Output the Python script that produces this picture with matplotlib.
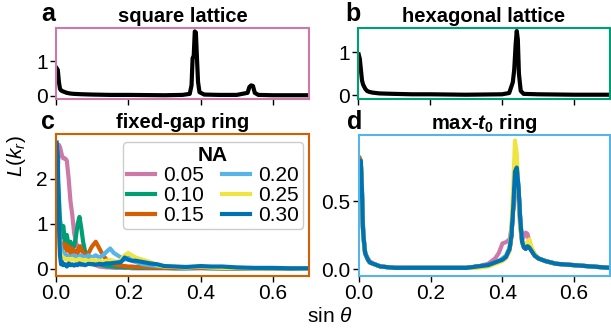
import matplotlib
matplotlib.use("Agg")
import matplotlib.pyplot as plt

plt.rcParams['font.family'] = ['Liberation Sans', 'DejaVu Sans']
plt.rcParams['font.size'] = 15
plt.rcParams['mathtext.fontset'] = 'custom'
plt.rcParams['mathtext.rm'] = 'Liberation Sans'
plt.rcParams['mathtext.it'] = 'Liberation Sans:italic'
plt.rcParams['mathtext.bf'] = 'Liberation Sans:bold'
plt.rcParams['mathtext.bfit'] = 'Liberation Sans:bold:italic'

# colorblind palette, one colour per NA
na_labels = ['0.05', '0.10', '0.15', '0.20', '0.25', '0.30']
na_colors = ['#CC79A7', '#009E73', '#D55E00', '#56B4E9', '#F0E442', '#0072B2']

# square lattice
x_sq = [0.002, 0.005, 0.008, 0.011, 0.014, 0.02, 0.025, 0.03, 0.04, 0.05, 0.07, 0.1, 0.15, 0.2,
        0.3, 0.35, 0.37, 0.375, 0.378, 0.381, 0.384, 0.387, 0.39, 0.393, 0.397, 0.41, 0.45, 0.5,
        0.53, 0.535, 0.54, 0.545, 0.55, 0.56, 0.6, 0.7]
y_sq = [0.80, 0.75, 0.40, 0.20, 0.15, 0.12, 0.10, 0.08, 0.06, 0.05, 0.04, 0.03, 0.02, 0.02,
        0.01, 0.02, 0.05, 0.30, 1.10, 1.15, 1.88, 1.85, 1.10, 0.40, 0.10, 0.03, 0.02, 0.02,
        0.08, 0.25, 0.30, 0.28, 0.08, 0.02, 0.01, 0.01]

# hexagonal lattice
x_hex = [0.002, 0.005, 0.008, 0.011, 0.014, 0.017, 0.02, 0.025, 0.03, 0.04, 0.06, 0.1, 0.15, 0.2,
         0.3, 0.4, 0.42, 0.43, 0.434, 0.438, 0.441, 0.444, 0.447, 0.452, 0.46, 0.5, 0.6, 0.7]
y_hex = [0.95, 0.85, 0.60, 0.35, 0.25, 0.20, 0.15, 0.10, 0.08, 0.06, 0.04, 0.03, 0.02, 0.02,
         0.01, 0.02, 0.05, 0.30, 0.60, 1.20, 1.50, 1.30, 0.50, 0.10, 0.03, 0.02, 0.01, 0.01]

# fixed-gap ring, one curve per NA
x_gap = [0.002, 0.005, 0.008, 0.011, 0.014, 0.017, 0.02, 0.025, 0.03, 0.035, 0.04, 0.045, 0.05,
         0.055, 0.06, 0.065, 0.07, 0.075, 0.08, 0.09, 0.1, 0.11, 0.12, 0.13, 0.14, 0.15, 0.16,
         0.17, 0.18, 0.19, 0.2, 0.21, 0.22, 0.24, 0.26, 0.28, 0.3, 0.33, 0.36, 0.4, 0.43, 0.46,
         0.5, 0.55, 0.6, 0.65, 0.7]
gap_005 = [1.00, 2.20, 2.75, 2.70, 2.60, 2.50, 2.45, 2.45, 2.40, 2.00, 1.50, 1.20, 0.80,
           0.60, 0.45, 0.40, 0.50, 0.40, 0.30, 0.20, 0.12, 0.08, 0.05, 0.04, 0.03, 0.03, 0.02,
           0.02, 0.02, 0.02, 0.02, 0.01, 0.01, 0.01, 0.01, 0.01, 0.01, 0.01, 0.01, 0.01, 0.01,
           0.01, 0.01, 0.01, 0.00, 0.00, 0.00]
gap_010 = [1.50, 2.00, 1.60, 1.10, 0.90, 0.70, 0.95, 0.60, 0.75, 0.50, 0.60, 0.45, 0.50,
           0.70, 1.00, 1.15, 0.90, 0.60, 0.40, 0.25, 0.18, 0.12, 0.10, 0.08, 0.06, 0.05, 0.05,
           0.04, 0.04, 0.03, 0.03, 0.03, 0.02, 0.02, 0.02, 0.02, 0.02, 0.01, 0.01, 0.02, 0.01,
           0.01, 0.01, 0.01, 0.00, 0.00, 0.00]
gap_015 = [1.50, 1.20, 0.90, 0.70, 0.50, 0.55, 0.45, 0.55, 0.40, 0.50, 0.35, 0.45, 0.35,
           0.40, 0.35, 0.50, 0.45, 0.35, 0.30, 0.35, 0.50, 0.60, 0.45, 0.30, 0.20, 0.15, 0.10,
           0.08, 0.07, 0.06, 0.05, 0.05, 0.04, 0.04, 0.03, 0.03, 0.02, 0.02, 0.02, 0.02, 0.02,
           0.01, 0.01, 0.01, 0.01, 0.00, 0.00]
gap_020 = [1.80, 1.40, 0.90, 0.60, 0.45, 0.40, 0.35, 0.32, 0.30, 0.28, 0.25, 0.28, 0.30,
           0.26, 0.25, 0.28, 0.30, 0.27, 0.25, 0.30, 0.25, 0.30, 0.25, 0.30, 0.38, 0.45, 0.35,
           0.30, 0.25, 0.20, 0.25, 0.18, 0.15, 0.10, 0.08, 0.06, 0.05, 0.04, 0.03, 0.04, 0.03,
           0.02, 0.02, 0.01, 0.01, 0.01, 0.00]
gap_025 = [1.60, 1.20, 0.70, 0.40, 0.30, 0.28, 0.25, 0.22, 0.20, 0.22, 0.20, 0.22, 0.20,
           0.18, 0.20, 0.22, 0.20, 0.18, 0.20, 0.18, 0.20, 0.18, 0.18, 0.16, 0.18, 0.20, 0.17,
           0.15, 0.20, 0.30, 0.35, 0.30, 0.25, 0.20, 0.15, 0.08, 0.05, 0.04, 0.03, 0.05, 0.03,
           0.02, 0.02, 0.01, 0.01, 0.01, 0.00]
gap_030 = [2.80, 2.50, 1.00, 0.30, 0.10, 0.15, 0.08, 0.10, 0.05, 0.12, 0.08, 0.10, 0.07,
           0.10, 0.08, 0.12, 0.09, 0.10, 0.08, 0.11, 0.10, 0.09, 0.11, 0.10, 0.12, 0.12, 0.13,
           0.14, 0.15, 0.25, 0.20, 0.18, 0.18, 0.15, 0.12, 0.10, 0.06, 0.05, 0.04, 0.06, 0.05,
           0.05, 0.03, 0.02, 0.02, 0.01, 0.01]
gap_curves = [gap_005, gap_010, gap_015, gap_020, gap_025, gap_030]

# max-t0 ring, one curve per NA
x_max = [0.002, 0.005, 0.008, 0.011, 0.014, 0.017, 0.02, 0.025, 0.03, 0.04, 0.05, 0.06, 0.08,
         0.1, 0.13, 0.16, 0.2, 0.25, 0.3, 0.33, 0.36, 0.38, 0.39, 0.4, 0.41, 0.42, 0.425, 0.43,
         0.435, 0.44, 0.445, 0.45, 0.455, 0.46, 0.465, 0.47, 0.475, 0.48, 0.49, 0.5, 0.52, 0.55,
         0.6, 0.65, 0.7]
max_005 = [0.75, 0.78, 0.58, 0.32, 0.20, 0.13, 0.10, 0.08, 0.06, 0.04, 0.03, 0.02, 0.015,
           0.01, 0.01, 0.01, 0.01, 0.01, 0.01, 0.02, 0.04, 0.08, 0.12, 0.19, 0.20, 0.22, 0.30, 0.45,
           0.60, 0.62, 0.50, 0.30, 0.22, 0.24, 0.27, 0.26, 0.20, 0.15, 0.10, 0.08, 0.06, 0.04,
           0.03, 0.02, 0.01]
max_010 = [0.76, 0.79, 0.60, 0.30, 0.19, 0.12, 0.10, 0.07, 0.05, 0.04, 0.03, 0.02, 0.015,
           0.01, 0.01, 0.01, 0.01, 0.01, 0.01, 0.02, 0.03, 0.05, 0.06, 0.07, 0.09, 0.15, 0.25, 0.45,
           0.70, 0.74, 0.58, 0.35, 0.20, 0.17, 0.16, 0.18, 0.17, 0.15, 0.11, 0.08, 0.06, 0.04,
           0.03, 0.02, 0.01]
max_015 = [0.82, 0.80, 0.58, 0.30, 0.20, 0.12, 0.10, 0.07, 0.05, 0.04, 0.03, 0.02, 0.015,
           0.01, 0.01, 0.01, 0.01, 0.01, 0.01, 0.02, 0.03, 0.05, 0.06, 0.07, 0.09, 0.14, 0.24, 0.44,
           0.70, 0.73, 0.58, 0.34, 0.20, 0.16, 0.15, 0.17, 0.16, 0.14, 0.10, 0.08, 0.06, 0.04,
           0.03, 0.02, 0.01]
max_020 = [0.78, 0.80, 0.62, 0.34, 0.21, 0.13, 0.10, 0.07, 0.05, 0.04, 0.03, 0.02, 0.015,
           0.01, 0.01, 0.01, 0.01, 0.01, 0.01, 0.02, 0.03, 0.05, 0.06, 0.08, 0.10, 0.16, 0.26, 0.46,
           0.72, 0.76, 0.60, 0.36, 0.21, 0.17, 0.16, 0.18, 0.17, 0.15, 0.11, 0.08, 0.06, 0.04,
           0.03, 0.02, 0.01]
max_025 = [0.77, 0.79, 0.60, 0.31, 0.20, 0.12, 0.10, 0.07, 0.05, 0.04, 0.03, 0.02, 0.015,
           0.01, 0.01, 0.01, 0.01, 0.01, 0.01, 0.01, 0.02, 0.04, 0.05, 0.06, 0.08, 0.14, 0.30, 0.60,
           0.95, 0.85, 0.55, 0.30, 0.19, 0.17, 0.18, 0.20, 0.22, 0.17, 0.11, 0.08, 0.06, 0.04,
           0.03, 0.02, 0.01]
max_030 = [0.78, 0.80, 0.60, 0.30, 0.20, 0.12, 0.10, 0.07, 0.05, 0.04, 0.03, 0.02, 0.015,
           0.01, 0.01, 0.01, 0.01, 0.01, 0.01, 0.02, 0.03, 0.05, 0.06, 0.07, 0.09, 0.15, 0.25, 0.45,
           0.72, 0.75, 0.60, 0.35, 0.20, 0.16, 0.15, 0.17, 0.16, 0.14, 0.10, 0.08, 0.06, 0.04,
           0.03, 0.02, 0.01]
max_curves = [max_005, max_010, max_015, max_020, max_025, max_030]

x_ticks = [0.0, 0.2, 0.4, 0.6]

fig = plt.figure(figsize=(6.11, 3.35), dpi=100)
W, H = 611, 335


def box(l, t, r, b):
    return [l / W, 1 - b / H, (r - l) / W, (b - t) / H]


ax_a = fig.add_axes(box(56, 28, 309, 99))
ax_b = fig.add_axes(box(358, 28, 610, 99))
ax_c = fig.add_axes(box(56, 134, 309, 276))
ax_d = fig.add_axes(box(359, 135, 610, 276))

ax_a.plot(x_sq, y_sq, color='black', lw=3)
ax_b.plot(x_hex, y_hex, color='black', lw=3)
for ys, c, lab in zip(gap_curves, na_colors, na_labels):
    ax_c.plot(x_gap, ys, color=c, lw=3, label=lab)
for ys, c in zip(max_curves, na_colors):
    ax_d.plot(x_max, ys, color=c, lw=3)

panels = [
    (ax_a, 'square lattice', '#CC79A7', (-0.1, 1.98), [0, 1]),
    (ax_b, 'hexagonal lattice', '#009E73', (-0.09, 1.57), [0, 1]),
    (ax_c, 'fixed-gap ring', '#D55E00', (-0.16, 2.99), [0, 1, 2]),
    (ax_d, r'max-$\mathbfit{t}_\mathbf{0}$ ring', '#56B4E9', (-0.05, 0.99), [0.0, 0.5]),
]
for ax, title, edge, ylim, yt in panels:
    ax.set_xlim(0, 0.7)
    ax.set_ylim(*ylim)
    ax.set_yticks(yt)
    ax.set_xticks(x_ticks)
    for sp in ax.spines.values():
        sp.set_color(edge)
        sp.set_linewidth(1.5)
    ax.tick_params(direction='out', length=4, width=1, labelsize=15, pad=2)
    ax.set_title(title, fontweight='bold', fontsize=14.5, pad=4)

ax_a.set_xticklabels([])
ax_b.set_xticklabels([])
ax_d.set_yticklabels(['0.0', '0.5'])

for letter, x, y in [('a', 48, 14), ('b', 353, 14), ('c', 48, 122), ('d', 355, 122)]:
    fig.text(x / W, 1 - y / H, letter, fontsize=18, fontweight='bold', ha='center', va='center')

fig.text(16 / W, 1 - 156 / H, r'$L(k_r)$', rotation=90, ha='center', va='center', fontsize=15)
fig.text(330 / W, 1 - 316 / H, r'sin $\theta$', ha='center', va='center', fontsize=15)

leg = ax_c.legend(title='NA', ncol=2, loc='upper right', fontsize=15, handlelength=1.3,
                  handletextpad=0.4, columnspacing=0.9, labelspacing=0.05, borderpad=0.2,
                  borderaxespad=0, bbox_to_anchor=(0.976, 0.944), framealpha=1,
                  edgecolor='#cccccc')
leg.get_title().set_fontweight('bold')
leg.get_title().set_fontsize(15)
for h in leg.get_lines():
    h.set_linewidth(3)

fig.savefig('out.png', dpi=100)
